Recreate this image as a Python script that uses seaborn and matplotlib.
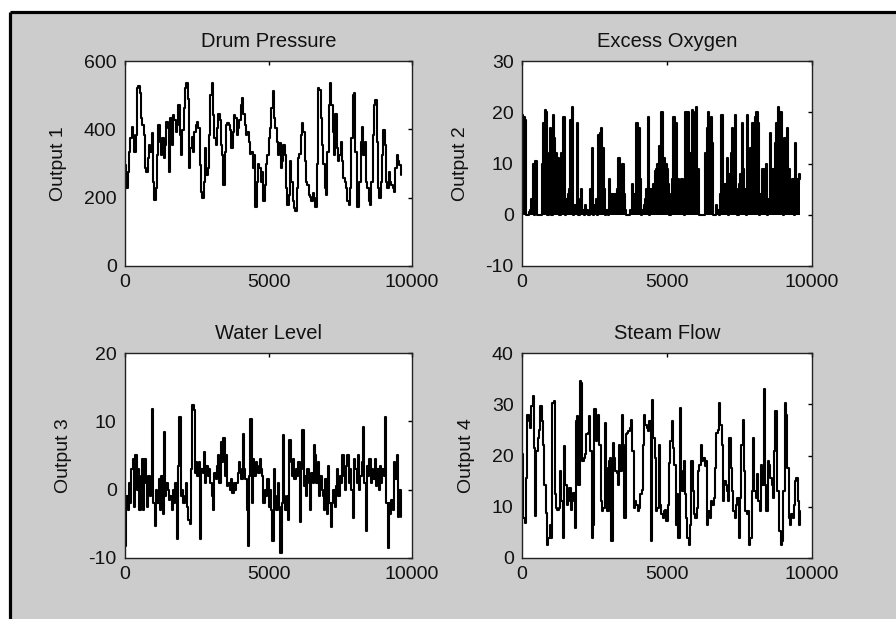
import numpy as np
import matplotlib
matplotlib.use("Agg")
import matplotlib.pyplot as plt
from matplotlib.patches import Rectangle
from matplotlib.lines import Line2D
import seaborn as sns

sns.set_style("white")
plt.rcParams['font.family'] = ['Liberation Sans', 'DejaVu Sans']
plt.rcParams['savefig.edgecolor'] = 'none'

# ---------------- data ----------------
titles = ["Drum Pressure", "Excess Oxygen", "Water Level", "Steam Flow"]
ylabels = ["Output 1", "Output 2", "Output 3", "Output 4"]
t_end = 9600

drum_pressure = [295, 228, 276, 335, 374, 408, 383, 335, 383, 520, 528, 505, 432, 413, 383, 286, 276, 315,
    354, 335, 388, 247, 193, 228, 325, 413, 364, 325, 374, 315, 354, 422, 403, 276, 432, 354, 442, 427,
    393, 413, 471, 383, 325, 398, 462, 520, 535, 490, 286, 345, 379, 335, 393, 413, 422, 403, 296, 218,
    199, 247, 345, 266, 286, 383, 501, 535, 442, 374, 354, 403, 446, 427, 354, 325, 237, 335, 413, 418,
    413, 398, 345, 393, 442, 432, 383, 403, 427, 471, 491, 446, 413, 383, 393, 364, 329, 335, 286, 325,
    174, 247, 300, 286, 247, 276, 189, 237, 300, 325, 374, 403, 462, 511, 432, 403, 364, 325, 359, 286,
    306, 354, 325, 228, 179, 208, 306, 247, 189, 169, 160, 228, 315, 329, 383, 418, 393, 306, 247, 237,
    208, 203, 189, 213, 199, 174, 300, 520, 516, 432, 354, 300, 228, 208, 335, 471, 535, 471, 393, 325,
    446, 345, 306, 325, 364, 306, 257, 247, 228, 189, 179, 228, 374, 501, 506, 335, 174, 174, 247, 364,
    408, 325, 364, 247, 228, 189, 179, 247, 383, 472, 486, 364, 228, 199, 247, 325, 398, 354, 247, 228,
    276, 247, 237, 228, 218, 286, 325, 306, 296, 267]

excess_oxygen = [19.5, 19, 18.5, 0, 0, 0.5, 1, 3, 10, 0, 10.5, 0, 0, 0, 0, 10, 18, 20.5, 20, 0, 12, 17, 0,
    19.5, 15, 12, 2, 11, 0, 12, 3, 19, 0, 3, 4, 5, 18.5, 21, 0, 2, 2, 18, 0, 3, 5, 1, 0, 2, 1, 0, 0, 5,
    13, 0, 2, 3, 0, 15.5, 16, 17, 13, 5, 0, 1, 0, 7, 4, 4, 3, 4, 3, 5, 11, 8, 9, 10, 4, 1, 0, 0, 0, 1,
    6, 4, 4, 18, 18, 17, 7, 0, 1, 2, 3, 5, 19, 0, 5, 3, 6, 8.5, 9, 10, 13.5, 1, 20, 5, 11, 10, 9, 6, 0,
    4, 7, 19, 18, 18, 7, 2, 6, 7, 1, 0, 20, 19, 20, 12, 3, 20.5, 13, 20, 21, 9, 0, 0, 0, 0, 0, 12, 17,
    20, 17, 19, 14, 0, 0, 2, 1, 0, 4, 19.5, 3, 6, 6, 11, 0, 8, 12, 17, 14, 19.5, 5, 0, 6, 8, 18, 9, 5,
    0, 19.5, 2, 13, 12, 18, 17, 19, 20, 18, 0, 4, 9, 1, 9, 10, 0, 3, 16, 5, 9, 4, 14, 18, 21, 18, 20,
    6, 0, 15, 8, 17, 9, 2, 6, 7, 0, 14, 7, 6, 8, 7]

water_level = [-8.2, -1, -3, 1, -2, 3, 4.5, -2.5, 5, 0, 3, -3, 2, 4.5, -3, 4.5, 1, -2.5, 2, -1, 1.5, 11.8,
    -2, -5.3, 0, -2, 1.5, -3, 2, -3.5, 8.5, -1, 1, 0, -1.5, -1, -3, 0, -2, 1, -7.2, 3.5, 10.7, -1, 0,
    -2, -1, 1, -2.5, -4.5, -5, 3, 12.4, 11.6, 2.5, 4, 2, 4, -7.2, 3, 2.5, 5.5, 1, 3.5, 2, 3, 1, -1, -3,
    2.5, 1.5, 3.5, 5, 1, 7, 4, 7.5, 2, 5, 0.5, 1, 0, 1.5, -0.5, 1, 0, 1, 2.5, 4, 3, 1.5, 8.2, 3, 1.5,
    -3, -8.2, 2, 10.3, -2, 4.5, 2, 4, 3.5, 2.5, 4.5, 3, 2, -2, 0, -1, 1.5, -2.5, 0, -3, -7.5, 3, -1, -3,
    1, -2.5, -9.3, -2, 8, -1, -3, -1, -4.5, 7.2, 4, 2, 4.5, 1.5, 3, 2, 4, -4.8, 3, 8.8, 0.5, 2, -1, 3,
    1, -3, 2.5, 1, 6.5, 5, 1, 4, -1, 2, 0, -1, -3, 1.5, -3.5, 3.5, -2, -5.5, -2, 0, -2.5, 0.5, 3, -1, 2,
    1, 5, 2, 0, 3.5, 5, 1, 3, 0, -4.2, 4.5, 3, 1, 5, 0, 2, 4, 9.2, 1, -6.1, 3.5, 2, 4.5, 1, 3, 1.5, 4.5,
    0.5, 3, 0, 3.5, 1, 3, 2, 10.6, -2, -8.5, -2, -3.5, -1.5, -3, 4, 1.5, 5, -4, 0, -4]

steam_flow = [20.2, 7.8, 6.8, 15.6, 28, 26.7, 25.4, 29.6, 31.6, 21.5, 8.1, 20.8, 23.4, 25, 29.6, 26.7,
    22.1, 14.3, 8.8, 2.6, 3.9, 6.5, 3.9, 30.3, 30.6, 12.4, 9.8, 9.4, 9.8, 16.9, 11.1, 3.9, 21.8, 14.3,
    10.4, 11.1, 13.7, 9.4, 11.1, 12.7, 5.9, 26.7, 27.7, 14.3, 34.5, 34.2, 18.9, 19.5, 20.2, 24.1, 24.4,
    27.7, 20.8, 3.9, 6.5, 29, 22.8, 26.7, 28, 22.1, 11.1, 9.1, 9.8, 26.4, 17.6, 9.1, 18.9, 19.5, 3.3,
    22.4, 19.5, 16.9, 16.6, 14.3, 22.1, 16.9, 28, 22.1, 7.8, 24.1, 24.4, 24.7, 25.4, 27, 20.8, 9.8, 11.1,
    10.4, 9.1, 9.8, 12.4, 13.3, 22.1, 28, 26, 25.4, 24.7, 26.7, 3.3, 30.9, 23.4, 19.5, 9.1, 9.8, 22.1,
    10.4, 8.5, 7.8, 9.1, 9.4, 7.2, 10.4, 18.5, 22.8, 26.7, 21.5, 18.2, 6.5, 12.4, 3.9, 29.3, 16.9, 13,
    18.9, 12.4, 7.8, 3.9, 2.6, 6.5, 18.9, 13, 8.5, 7.8, 9.8, 16.9, 18.2, 22.1, 18.9, 19.5, 17.9, 18.9,
    6.5, 9.1, 7.8, 11.1, 10.4, 11.7, 17.6, 24.4, 25, 30.3, 26, 22.1, 11.1, 15, 14.3, 13, 11.1, 23.4,
    17.6, 13, 9.1, 7.8, 10.4, 11.7, 3.9, 11.7, 22.1, 27, 16.9, 9.1, 8.5, 9.1, 2.6, 3.9, 13, 23.4, 13,
    11.7, 16.3, 11.1, 9.1, 18.2, 14.3, 32.9, 14.3, 9.1, 18.9, 18.2, 15.6, 14.3, 11.7, 20.8, 28.6, 13,
    13, 5.2, 2.6, 3.3, 13, 30.3, 28, 17.6, 7.8, 6.5, 8.5, 7.8, 10.4, 15, 15.6, 11.1, 6.5, 9.1]

series = [drum_pressure, excess_oxygen, water_level, steam_flow]
ylims = [(0, 600), (-10, 30), (-10, 20), (0, 40)]
yticks = [[0, 200, 400, 600], [-10, 0, 10, 20, 30], [-10, 0, 10, 20], [0, 10, 20, 30, 40]]
xticks = [0, 5000, 10000]

# ---------------- figure ----------------
W, H = 896, 619
fig = plt.figure(figsize=(W / 100, H / 100), dpi=100)
fig.patch.set_facecolor("white")
fig.patch.set_edgecolor("none")
fig.patch.set_linewidth(0)
gx, gy = 10.0 / W, 1 - 11.5 / H
fig.patches.append(Rectangle((gx, -0.01), 1.02 - gx, gy + 0.01, transform=fig.transFigure,
                             facecolor="#cccccc", edgecolor="none", linewidth=0, zorder=-10))
fig.add_artist(Line2D([gx, 1.02], [gy, gy], transform=fig.transFigure, color="black",
                      linewidth=2.3, solid_capstyle="butt"))
fig.add_artist(Line2D([gx, gx], [-0.01, gy], transform=fig.transFigure, color="black",
                      linewidth=2.3, solid_capstyle="butt"))

boxes = [(125, 412, 61, 266), (522, 812, 61, 266), (125, 412, 353, 558), (522, 812, 353, 558)]

for i, (x0, x1, y0, y1) in enumerate(boxes):
    ax = fig.add_axes([x0 / W, 1 - y1 / H, (x1 - x0) / W, (y1 - y0) / H])
    ax.set_facecolor("white")
    vals = np.asarray(series[i], dtype=float)
    t = np.linspace(0, t_end, len(vals))
    sns.lineplot(x=t, y=vals, ax=ax, color="black", linewidth=1.5, drawstyle="steps-post",
                 estimator=None, sort=False, legend=False)
    if i == 1:
        ax.fill_between(t, 0, vals, step="post", color="black", linewidth=0)
    ax.set_xlim(0, 10000)
    ax.set_ylim(*ylims[i])
    ax.set_xticks(xticks)
    ax.set_yticks(yticks[i])
    ax.set_xticklabels([str(v) for v in xticks])
    ax.set_yticklabels([str(v) for v in yticks[i]])
    ax.tick_params(direction="in", length=3, width=1, top=True, right=True,
                   labelsize=14, pad=6, colors="black", labelcolor="#111111")
    for s in ax.spines.values():
        s.set_color("#222222")
        s.set_linewidth(1.0)
        s.set_visible(True)
    ax.set_title(titles[i], fontsize=14.5, pad=10, color="#111111")
    ax.set_ylabel(ylabels[i], fontsize=14, labelpad=12, color="#111111")
    ax.set_xlabel("")

fig.savefig("out.png", dpi=100, facecolor=fig.get_facecolor(), edgecolor="none")
